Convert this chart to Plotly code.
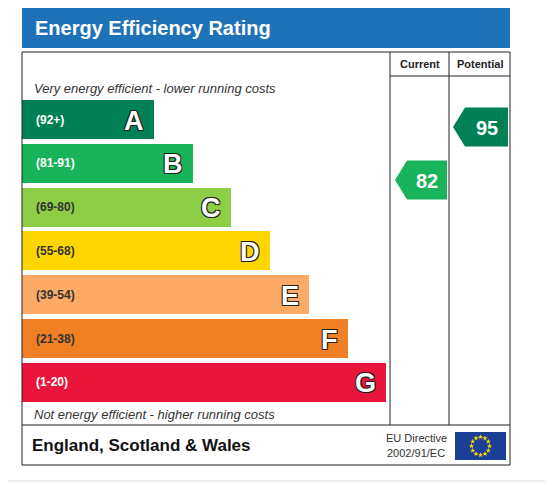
import plotly.graph_objects as go
import math

letters = ["A", "B", "C", "D", "E", "F", "G"]
ranges = ["(92+)", "(81-91)", "(69-80)", "(55-68)", "(39-54)", "(21-38)", "(1-20)"]
colors = ["#008054", "#19b459", "#8dce46", "#ffd500", "#fcaa65", "#ef8023", "#e9153b"]
label_colors = ["white", "white", "#333333", "#333333", "#333333", "#333333", "white"]
current = 82
potential = 95

W, H = 553, 485
OFF = 8
X0 = 22
top0, step, bh = 100, 43.8, 39
fig = go.Figure()
centers = [top0 + bh / 2 + i * step for i in range(7)]
widths = [132 + 38.7 * i for i in range(7)]
fig.add_trace(go.Bar(orientation="h", y=centers, x=widths, base=X0, width=bh,
                     marker=dict(color=colors, line=dict(width=0)), hoverinfo="skip"))
shadow = "-1px -1px 0 #222, 1px -1px 0 #222, -1px 1px 0 #222, 1px 1px 0 #222"
for i in range(7):
    fig.add_annotation(x=X0 + 12, y=centers[i], text="<b>%s</b>" % ranges[i], showarrow=False,
                       xanchor="left", font=dict(size=12, color=label_colors[i], family="Liberation Sans"))
    fig.add_annotation(x=X0 + widths[i] - 8, y=centers[i] + 1, text="<b>%s</b>" % letters[i], showarrow=False,
                       xanchor="right", font=dict(size=27, color="white", family="Liberation Sans", shadow=shadow))

def ypos(v):
    return 127 + (95 - v) * 4.08

def arrow(v, x_left, x_right, col):
    yc = ypos(v)
    h = bh / 2
    xs = [x_left, x_left + 12, x_right, x_right, x_left + 12, x_left]
    ys = [yc, yc - h, yc - h, yc + h, yc + h, yc]
    fig.add_trace(go.Scatter(x=xs, y=ys, fill="toself", fillcolor=col, mode="lines",
                             line=dict(width=0, color=col), hoverinfo="skip"))
    fig.add_annotation(x=(x_left + x_right) / 2 + 6, y=yc + 1, text="<b>%d</b>" % v, showarrow=False,
                       font=dict(size=20, color="white", family="Liberation Sans"))

def band_color(v):
    bounds = [92, 81, 69, 55, 39, 21, 1]
    for b, c in zip(bounds, colors):
        if v >= b:
            return c
    return colors[-1]

arrow(current, 395, 447, band_color(current))
arrow(potential, 453, 508, band_color(potential))

shapes = []
shapes.append(dict(type="rect", x0=22, x1=510, y0=8, y1=48, fillcolor="#1f72b8", line=dict(width=0), layer="below"))
ln = dict(color="#222222", width=1)
shapes.append(dict(type="rect", x0=22, x1=510, y0=52, y1=465, line=ln))
shapes.append(dict(type="line", x0=390, x1=390, y0=52, y1=425, line=ln))
shapes.append(dict(type="line", x0=449, x1=449, y0=52, y1=425, line=ln))
shapes.append(dict(type="line", x0=390, x1=510, y0=76, y1=76, line=ln))
shapes.append(dict(type="line", x0=22, x1=510, y0=425, y1=425, line=ln))
shapes.append(dict(type="line", x0=0, x1=553, y0=481, y1=481, line=dict(color="#dddddd", width=1)))
shapes.append(dict(type="rect", x0=455, x1=506, y0=432, y1=460, fillcolor="#1b3f94", line=dict(width=0), layer="below"))
fig.update_layout(shapes=shapes)

fig.add_annotation(x=33, y=28, text="<b>Energy Efficiency Rating</b>", showarrow=False, xanchor="left",
                   font=dict(size=20, color="white", family="Liberation Sans"))
fig.add_annotation(x=419.5, y=64, text="<b>Current</b>", showarrow=False,
                   font=dict(size=11, color="#222", family="Liberation Sans"))
fig.add_annotation(x=479.5, y=64, text="<b>Potential</b>", showarrow=False,
                   font=dict(size=11, color="#222", family="Liberation Sans"))
fig.add_annotation(x=32, y=88, text="<i>Very energy efficient - lower running costs</i>", showarrow=False,
                   xanchor="left", font=dict(size=13, color="#333", family="Liberation Sans"))
fig.add_annotation(x=32, y=414, text="<i>Not energy efficient - higher running costs</i>", showarrow=False,
                   xanchor="left", font=dict(size=13, color="#333", family="Liberation Sans"))
fig.add_annotation(x=30, y=445, text="<b>England, Scotland &amp; Wales</b>", showarrow=False, xanchor="left",
                   font=dict(size=17, color="#111", family="Liberation Sans"))
fig.add_annotation(x=449, y=438, text="EU Directive", showarrow=False, xanchor="right",
                   font=dict(size=11, color="#333", family="Liberation Sans"))
fig.add_annotation(x=447, y=453, text="2002/91/EC", showarrow=False, xanchor="right",
                   font=dict(size=11, color="#333", family="Liberation Sans"))
sx = [480.5 + 9 * math.cos(2 * math.pi * k / 12) for k in range(12)]
sy = [446 + 9 * math.sin(2 * math.pi * k / 12) for k in range(12)]
fig.add_trace(go.Scatter(x=sx, y=sy, mode="markers", marker=dict(symbol="star", size=4, color="#ffdd00"),
                         hoverinfo="skip"))

fig.update_layout(width=W - OFF, height=H - OFF, margin=dict(l=0, r=0, t=0, b=0), showlegend=False,
                  plot_bgcolor="white", paper_bgcolor="white", bargap=0,
                  xaxis=dict(range=[OFF, W], visible=False, fixedrange=True),
                  yaxis=dict(range=[H, OFF], visible=False, fixedrange=True))
fig.write_html("out.html", config={"displayModeBar": False})
